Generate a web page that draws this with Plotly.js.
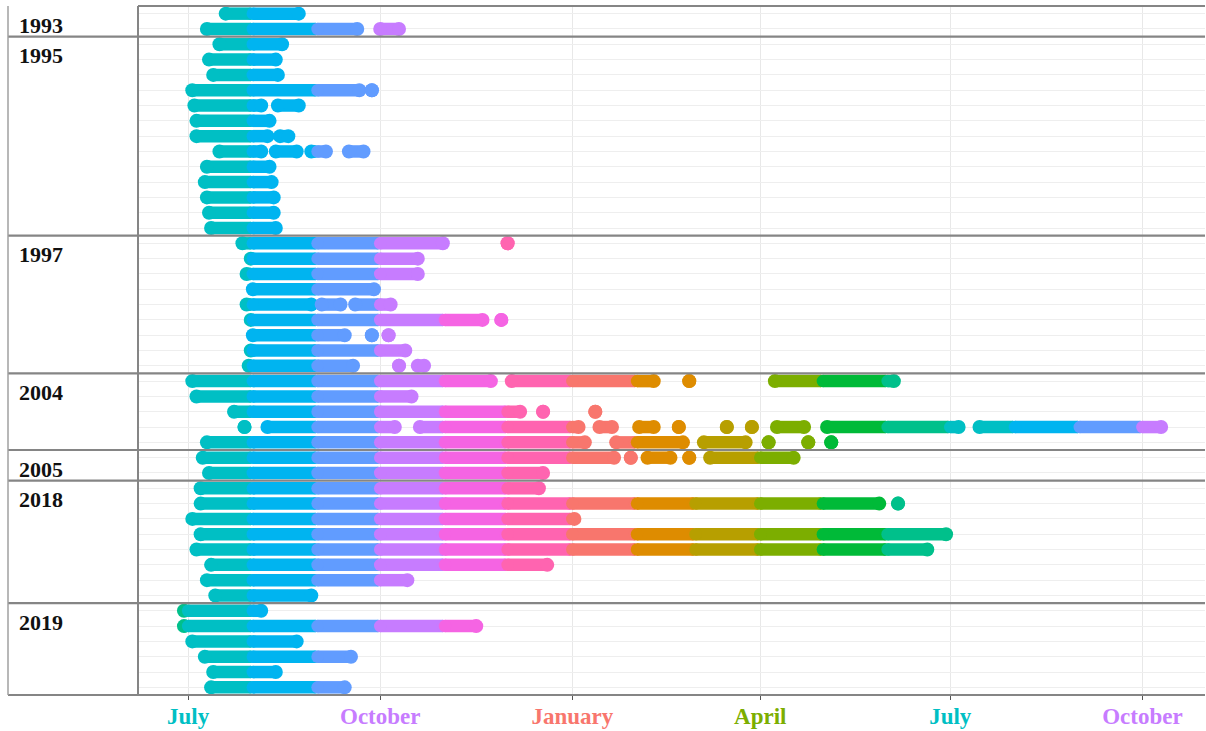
<!DOCTYPE html>
<html><head><meta charset="utf-8">
<script src="https://cdn.plot.ly/plotly-3.0.1.min.js"></script>
<style>html,body{margin:0;padding:0;background:#fff}#chart{width:1206px;height:731px}</style>
</head><body><div id="chart"></div>
<script>
// Every track is placed on one reference season (June 2001 – October 2002).
// Each row = one tracked individual, given as [first fix, last fix] stretches.
const yearGroups = ['1993', '1995', '1997', '2004', '2005', '2018', '2019'];

const tracks1993 = [
  [['2001-07-19','2001-08-23']],
  [['2001-07-10','2001-09-20'], ['2001-10-01','2001-10-10']]
];
const tracks1995 = [
  [['2001-07-16','2001-08-15']],
  [['2001-07-11','2001-08-12']],
  [['2001-07-13','2001-08-13']],
  [['2001-07-03','2001-09-21'], ['2001-09-27','2001-09-27']],
  [['2001-07-04','2001-08-05'], ['2001-08-13','2001-08-23']],
  [['2001-07-05','2001-08-09']],
  [['2001-07-05','2001-08-08'], ['2001-08-14','2001-08-18']],
  [['2001-07-16','2001-08-05'], ['2001-08-12','2001-08-22'], ['2001-08-29','2001-09-05'], ['2001-09-16','2001-09-23']],
  [['2001-07-10','2001-08-09']],
  [['2001-07-09','2001-08-10']],
  [['2001-07-10','2001-08-11']],
  [['2001-07-11','2001-08-11']],
  [['2001-07-12','2001-08-12']]
];
const tracks1997 = [
  [['2001-07-27','2001-10-31'], ['2001-12-01','2001-12-01']],
  [['2001-07-31','2001-10-19']],
  [['2001-07-29','2001-10-19']],
  [['2001-08-01','2001-09-28']],
  [['2001-07-29','2001-08-29'], ['2001-09-03','2001-09-12'], ['2001-09-19','2001-10-06']],
  [['2001-07-31','2001-11-19'], ['2001-11-28','2001-11-28']],
  [['2001-08-01','2001-09-14'], ['2001-09-27','2001-09-27'], ['2001-10-05','2001-10-05']],
  [['2001-07-31','2001-10-13']],
  [['2001-07-30','2001-09-18'], ['2001-10-10','2001-10-10'], ['2001-10-19','2001-10-22']]
];
const tracks2004 = [
  [['2001-07-03','2001-11-23'], ['2001-12-03','2002-02-09'], ['2002-02-26','2002-02-26'], ['2002-04-08','2002-06-04']],
  [['2001-07-05','2001-10-16']],
  [['2001-07-23','2001-12-07'], ['2001-12-18','2001-12-18'], ['2002-01-12','2002-01-12']],
  [['2001-07-28','2001-07-28'], ['2001-08-08','2001-10-08'], ['2001-10-20','2002-01-04'], ['2002-01-14','2002-01-20'],
   ['2002-02-02','2002-02-09'], ['2002-02-21','2002-02-21'], ['2002-03-16','2002-03-16'], ['2002-03-28','2002-03-28'],
   ['2002-04-09','2002-04-22'], ['2002-05-03','2002-07-05'], ['2002-07-15','2002-10-10']],
  [['2001-07-10','2002-01-07'], ['2002-01-22','2002-02-23'], ['2002-03-05','2002-03-25'], ['2002-04-05','2002-04-05'],
   ['2002-04-24','2002-04-24'], ['2002-05-05','2002-05-05']]
];
const tracks2005 = [
  [['2001-07-08','2002-01-21'], ['2002-01-29','2002-01-29'], ['2002-02-06','2002-02-17'], ['2002-02-26','2002-02-26'], ['2002-03-08','2002-04-17']],
  [['2001-07-11','2001-12-18']]
];
const tracks2018 = [
  [['2001-07-07','2001-12-16']],
  [['2001-07-07','2002-05-28'], ['2002-06-06','2002-06-06']],
  [['2001-07-03','2002-01-02']],
  [['2001-07-07','2002-06-29']],
  [['2001-07-05','2002-06-20']],
  [['2001-07-12','2001-12-20']],
  [['2001-07-10','2001-10-14']],
  [['2001-07-14','2001-08-29']]
];
const tracks2019 = [
  [['2001-06-29','2001-08-05']],
  [['2001-06-29','2001-11-16']],
  [['2001-07-03','2001-08-22']],
  [['2001-07-09','2001-09-17']],
  [['2001-07-13','2001-08-12']],
  [['2001-07-12','2001-09-14']]
];

// month colours (January ... December)
const monthColors = ['#F8766D','#DE8C00','#B79F00','#7CAE00','#00BA38','#00C08B',
                     '#00BFC4','#00B4F0','#619CFF','#C77CFF','#F564E3','#FF64B0'];
const tickDates  = ['2001-07-01','2001-10-01','2002-01-01','2002-04-01','2002-07-01','2002-10-01'];
const tickLabels = ['July','October','January','April','July','October'];
const xRange = ['2001-06-07','2002-10-31'];

const groupsTracks = [tracks1993, tracks1995, tracks1997, tracks2004, tracks2005, tracks2018, tracks2019];
const allRows = [].concat(...groupsTracks);
const nRows = allRows.length;

const BAR = 12.5, END = 14;

function parse(s){ const p = s.split('-').map(Number); return Date.UTC(p[0], p[1]-1, p[2]); }
function iso(t){ return new Date(t).toISOString().slice(0,10); }

const groups = {};
allRows.forEach((segs, row) => {
  segs.forEach(([a, b]) => {
    const s = parse(a), e = parse(b);
    const d = new Date(s);
    let Y = d.getUTCFullYear(), M = d.getUTCMonth();
    while (true) {
      const ms = Date.UTC(Y, M, 1), me = Date.UTC(Y, M+1, 0);
      if (ms > e) break;
      const ps = Math.max(s, ms), pe = Math.min(e, me);
      const key = Y*12 + M;
      if (!groups[key]) groups[key] = {x: [], y: [], size: [], month: M};
      const g = groups[key];
      g.x.push(iso(ps), iso(pe), null);
      g.y.push(row, row, null);
      g.size.push(ps === s ? END : BAR, pe === e ? END : BAR, 0);
      M++; if (M > 11) { M = 0; Y++; }
    }
  });
});

const traces = Object.keys(groups).map(Number).sort((a,b)=>a-b).map(k => {
  const g = groups[k], c = monthColors[g.month];
  return {type: 'scatter', mode: 'lines+markers', x: g.x, y: g.y, connectgaps: false,
          line: {color: c, width: BAR},
          marker: {color: c, size: g.size, opacity: 1, line: {width: 0}},
          hoverinfo: 'skip', showlegend: false};
});

// panel boundaries and labels
const plotL = 138, plotW = 1067;
const xOuter = (8 - plotL) / plotW;
const shapes = [], annotations = [];
let start = 0;
groupsTracks.forEach((g, i) => {
  const top = start - 0.5;
  annotations.push({xref: 'paper', yref: 'y', x: (17 - plotL) / plotW, y: top, xanchor: 'left', yanchor: 'middle',
    yshift: -19, showarrow: false, text: yearGroups[i],
    font: {family: 'Liberation Serif, Times New Roman, serif', size: 22, color: '#111', weight: 'bold'}});
  if (i > 0) shapes.push({type: 'line', xref: 'paper', yref: 'y', x0: xOuter, x1: 1, y0: top, y1: top,
    line: {color: '#858585', width: 2.2}});
  start += g.length;
});
shapes.push({type: 'line', xref: 'paper', yref: 'paper', x0: 0, x1: 1, y0: 1, y1: 1, line: {color: '#858585', width: 2}});
shapes.push({type: 'line', xref: 'paper', yref: 'paper', x0: xOuter, x1: 1, y0: 0, y1: 0, line: {color: '#858585', width: 2}});
shapes.push({type: 'line', xref: 'paper', yref: 'paper', x0: xOuter, x1: xOuter, y0: 0, y1: 1, line: {color: '#a0a0a0', width: 1.5}});
shapes.push({type: 'line', xref: 'paper', yref: 'paper', x0: 0, x1: 0, y0: 0, y1: 1, line: {color: '#858585', width: 2}});

const tickText = tickLabels.map((t, i) => {
  const m = parse(tickDates[i]);
  return '<span style="color:' + monthColors[new Date(m).getUTCMonth()] + '">' + t + '</span>';
});

const layout = {
  width: 1206, height: 731,
  margin: {l: plotL, r: 1, t: 6, b: 36},
  paper_bgcolor: '#fff', plot_bgcolor: '#fff',
  showlegend: false,
  xaxis: {type: 'date', range: xRange, tickvals: tickDates, ticktext: tickText,
    showgrid: true, gridcolor: '#E8E8E8', gridwidth: 1, zeroline: false, showline: false,
    ticks: 'outside', ticklen: 4, tickcolor: '#555', tickwidth: 1, ticklabelstandoff: -4,
    tickfont: {family: 'Liberation Serif, Times New Roman, serif', size: 23, weight: 'bold'}},
  yaxis: {range: [nRows - 0.5, -0.5], tick0: 0, dtick: 1, showticklabels: false, ticks: '',
    showgrid: true, gridcolor: '#EEEEEE', gridwidth: 1, zeroline: false, showline: false},
  shapes: shapes, annotations: annotations
};

Plotly.newPlot('chart', traces, layout, {displayModeBar: false, staticPlot: true});
</script></body></html>
